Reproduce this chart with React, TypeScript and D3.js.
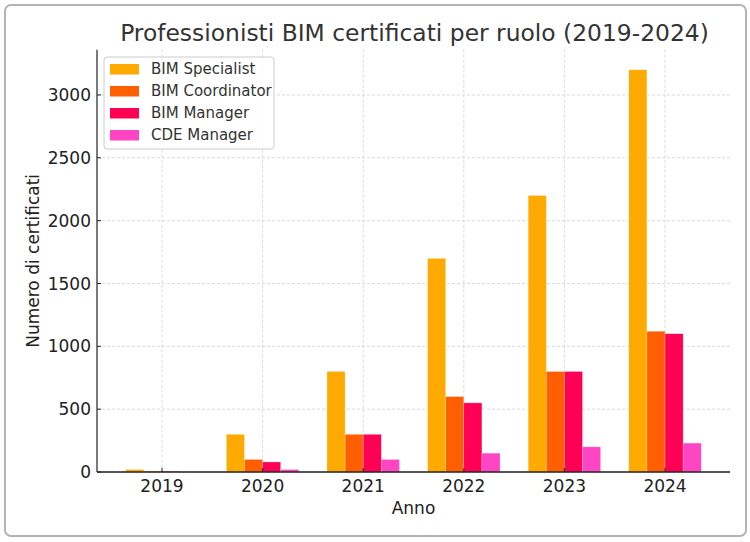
import { useEffect, useRef } from "react";
import * as d3 from "d3";

const years = ["2019", "2020", "2021", "2022", "2023", "2024"];
const roles = ["BIM Specialist", "BIM Coordinator", "BIM Manager", "CDE Manager"];
const bimSpecialist = [20, 300, 800, 1700, 2200, 3200];
const bimCoordinator = [5, 100, 300, 600, 800, 1120];
const bimManager = [5, 80, 300, 550, 800, 1100];
const cdeManager = [0, 20, 100, 150, 200, 230];
const yTicks = [0, 500, 1000, 1500, 2000, 2500, 3000];
const colors = ["#FFAA00", "#FF5F00", "#FF0055", "#FF44C4"];

const W = 750;
const H = 542;
const FONT = "DejaVu Sans, sans-serif";

export default function App() {
  const svgRef = useRef<SVGSVGElement>(null);

  useEffect(() => {
    document.body.style.margin = "0";
    if (!svgRef.current) return;
    const svg = d3.select(svgRef.current);
    svg.selectAll("*").remove();

    const series = [bimSpecialist, bimCoordinator, bimManager, cdeManager];
    const left = 97;
    const right = 730;
    const top = 49.7;
    const bottom = 472;
    const barW = 0.18;

    // frame
    svg
      .append("rect")
      .attr("x", 5)
      .attr("y", 5)
      .attr("width", 741)
      .attr("height", 531)
      .attr("rx", 6)
      .attr("fill", "#fff")
      .attr("stroke", "#b4b4b4")
      .attr("stroke-width", 2);

    // Scales
    const x = d3.scaleLinear().domain([-0.646, 5.646]).range([left, right]);
    const y = d3.scaleLinear().domain([0, 3360]).range([bottom, top]);

    const g = svg.append("g");

    // Grid
    g.selectAll(".gy")
      .data(yTicks)
      .join("line")
      .attr("x1", left)
      .attr("x2", right)
      .attr("y1", (d) => y(d))
      .attr("y2", (d) => y(d))
      .attr("stroke", "#cfcfcf")
      .attr("stroke-width", 0.8)
      .attr("stroke-dasharray", "3,2");

    g.selectAll(".gx")
      .data(years)
      .join("line")
      .attr("x1", (_, i) => x(i))
      .attr("x2", (_, i) => x(i))
      .attr("y1", top)
      .attr("y2", bottom)
      .attr("stroke", "#cfcfcf")
      .attr("stroke-width", 0.8)
      .attr("stroke-dasharray", "3,2");

    // Bars
    series.forEach((vals, s) => {
      g.append("g")
        .selectAll("rect")
        .data(vals)
        .join("rect")
        .attr("x", (_, i) => x(i + (s - 2) * barW))
        .attr("width", x(barW) - x(0))
        .attr("y", (d) => y(d))
        .attr("height", (d) => bottom - y(d))
        .attr("fill", colors[s])
        .attr("stroke", "#fff")
        .attr("stroke-opacity", 0.5)
        .attr("stroke-width", 0.5);
    });

    // Spines
    g.append("line")
      .attr("x1", left)
      .attr("x2", left)
      .attr("y1", top)
      .attr("y2", bottom)
      .attr("stroke", "#333")
      .attr("stroke-width", 1.3);
    g.append("line")
      .attr("x1", left)
      .attr("x2", right)
      .attr("y1", bottom)
      .attr("y2", bottom)
      .attr("stroke", "#222")
      .attr("stroke-width", 1.3);

    // Ticks (inward)
    g.selectAll(".ty")
      .data(yTicks)
      .join("line")
      .attr("x1", left)
      .attr("x2", left + 4)
      .attr("y1", (d) => y(d))
      .attr("y2", (d) => y(d))
      .attr("stroke", "#222");
    g.selectAll(".tyl")
      .data(yTicks)
      .join("text")
      .attr("x", left - 6)
      .attr("y", (d) => y(d))
      .attr("dy", "0.36em")
      .attr("text-anchor", "end")
      .attr("font-family", FONT)
      .attr("font-size", 17)
      .attr("fill", "#222")
      .text((d) => String(d));

    g.selectAll(".tx")
      .data(years)
      .join("line")
      .attr("x1", (_, i) => x(i))
      .attr("x2", (_, i) => x(i))
      .attr("y1", bottom)
      .attr("y2", bottom - 4)
      .attr("stroke", "#222");
    g.selectAll(".txl")
      .data(years)
      .join("text")
      .attr("x", (_, i) => x(i))
      .attr("y", bottom + 20)
      .attr("text-anchor", "middle")
      .attr("font-family", FONT)
      .attr("font-size", 17)
      .attr("fill", "#222")
      .text((d) => d);

    // Axis labels
    svg
      .append("text")
      .attr("x", (left + right) / 2)
      .attr("y", 514)
      .attr("text-anchor", "middle")
      .attr("font-family", FONT)
      .attr("font-size", 17)
      .attr("fill", "#222")
      .text("Anno");
    svg
      .append("text")
      .attr("transform", `translate(39,${(top + bottom) / 2}) rotate(-90)`)
      .attr("text-anchor", "middle")
      .attr("font-family", FONT)
      .attr("font-size", 17)
      .attr("fill", "#222")
      .text("Numero di certificati");

    // Title
    svg
      .append("text")
      .attr("x", (left + right) / 2 + 1)
      .attr("y", 41)
      .attr("text-anchor", "middle")
      .attr("font-family", FONT)
      .attr("font-size", 23.4)
      .attr("fill", "#333")
      .text("Professionisti BIM certificati per ruolo (2019-2024)");

    // Legend
    const lg = svg.append("g").attr("transform", "translate(104,57)");
    lg.append("rect")
      .attr("width", 170)
      .attr("height", 92)
      .attr("rx", 3)
      .attr("fill", "#fff")
      .attr("fill-opacity", 0.85)
      .attr("stroke", "#ccc");
    roles.forEach((r, i) => {
      const row = lg.append("g").attr("transform", `translate(0,${12 + i * 22})`);
      row
        .append("rect")
        .attr("x", 6)
        .attr("y", -5)
        .attr("width", 29)
        .attr("height", 10.5)
        .attr("fill", colors[i]);
      row
        .append("text")
        .attr("x", 47)
        .attr("y", 0)
        .attr("dy", "0.36em")
        .attr("font-family", FONT)
        .attr("font-size", 15)
        .attr("fill", "#333")
        .text(r);
    });
  }, []);

  return <svg ref={svgRef} width={W} height={H} style={{ display: "block" }} />;
}
